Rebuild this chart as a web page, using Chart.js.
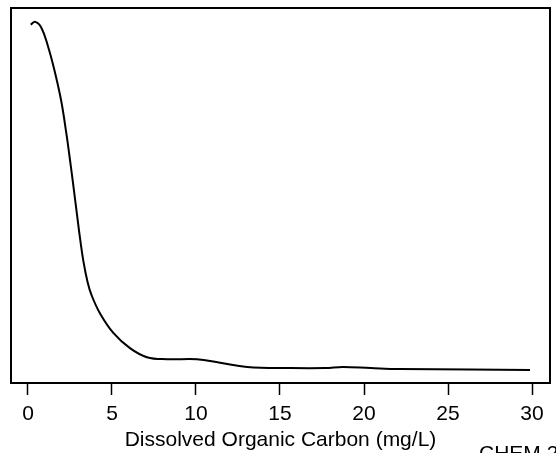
<!DOCTYPE html>
<html>
<head>
<meta charset="utf-8">
<script src="https://cdn.jsdelivr.net/npm/chart.js@4/dist/chart.umd.min.js"></script>
<style>
  html, body { margin: 0; padding: 0; background: #fff; }
  #wrap { width: 556px; height: 453px; }
</style>
</head>
<body>
<div id="wrap"><canvas id="docChart"></canvas></div>
<script>
// density estimate of dissolved organic carbon
var docX = [0.16, 0.43, 0.79, 1.19, 1.59, 1.98, 2.28, 2.48, 2.68, 2.90, 3.10, 3.30, 3.55, 3.79, 4.29, 5.08, 6.07, 7.08, 8.27, 10.06, 11.43, 13.04, 15.6, 17.7, 18.75, 20.4, 22.1, 26.3, 29.88];
var docDensity = [0.496, 0.500, 0.492, 0.465, 0.429, 0.386, 0.340, 0.305, 0.268, 0.226, 0.188, 0.155, 0.125, 0.106, 0.080, 0.052, 0.030, 0.017, 0.014, 0.014, 0.009, 0.003, 0.0014, 0.0014, 0.003, 0.0014, 0.0, -0.0007, -0.0014];
var xTicks = [0, 5, 10, 15, 20, 25, 30];
var xTitle = 'Dissolved Organic Carbon (mg/L)';
var footNote = 'CHEM 2';

var points = docX.map(function (x, i) { return { x: x, y: docDensity[i] }; });
var labelFont = { family: '"Liberation Sans", Arial, sans-serif', size: 21 };

var frameBox = {
  id: 'frameBox',
  afterDraw: function (chart) {
    var c = chart.ctx, a = chart.chartArea;
    c.save();
    c.strokeStyle = '#000';
    c.lineWidth = 2;
    c.strokeRect(a.left, a.top, a.right - a.left, a.bottom - a.top);
    c.fillStyle = '#000';
    c.font = '21px "Liberation Sans", Arial, sans-serif';
    c.textBaseline = 'top';
    c.fillText(footNote, 479, 444);
    c.restore();
  }
};

var ctx = document.getElementById('docChart').getContext('2d');
var docChart = new Chart(ctx, {
  type: 'line',
  data: {
    datasets: [{
      data: points,
      borderColor: '#000',
      borderWidth: 2,
      pointRadius: 0,
      fill: false,
      tension: 0.4
    }]
  },
  options: {
    responsive: true,
    maintainAspectRatio: false,
    animation: false,
    layout: { padding: { left: 11, right: 6, top: 8, bottom: 0 } },
    plugins: {
      legend: { display: false },
      tooltip: { enabled: false }
    },
    scales: {
      x: {
        type: 'linear',
        min: -1.01,
        max: 31.07,
        afterBuildTicks: function (scale) {
          scale.ticks = xTicks.map(function (v) { return { value: v }; });
        },
        afterFit: function (scale) { scale.height = 70; },
        grid: {
          drawOnChartArea: false,
          drawTicks: true,
          tickLength: 12,
          tickWidth: 1.5,
          tickColor: '#000'
        },
        border: { display: false },
        ticks: {
          color: '#000',
          padding: 7,
          maxRotation: 0,
          font: labelFont
        },
        title: {
          display: true,
          text: xTitle,
          color: '#000',
          padding: { top: 0, bottom: 0 },
          font: labelFont
        }
      },
      y: {
        display: false,
        min: -0.0202,
        max: 0.52
      }
    }
  },
  plugins: [frameBox]
});
</script>
</body>
</html>
